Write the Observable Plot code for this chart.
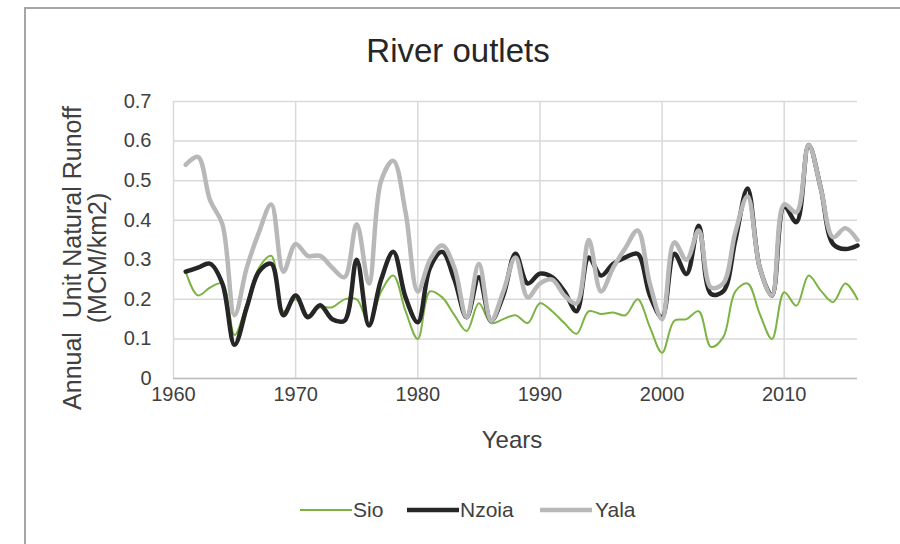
<!DOCTYPE html>
<html>
<head>
<meta charset="utf-8">
<script src="https://cdn.jsdelivr.net/npm/d3@7"></script>
<script src="https://cdn.jsdelivr.net/npm/@observablehq/plot@0.6"></script>
<style>
  html, body { margin: 0; padding: 0; background: #fff; }
  body { width: 900px; height: 544px; position: relative; overflow: hidden; font-family: "Liberation Sans", Arial, sans-serif; }
  #frame { position: absolute; left: 24px; top: 7px; width: 900px; height: 600px; border-left: 2px solid #a6a6a6; border-top: 2px solid #a6a6a6; }
  #chart { position: absolute; left: 0; top: 0; }
  .t { position: absolute; color: #404040; white-space: nowrap; }
  #title { left: 458px; top: 32px; transform: translateX(-50%); font-size: 33px; color: #262626; }
  #xtitle { left: 512px; top: 426px; transform: translateX(-50%); font-size: 24px; }
  #ytitle { left: 85px; top: 258px; transform: translate(-50%, -50%) rotate(-90deg); font-size: 25px; text-align: center; line-height: 25px; }
  .lg-line { position: absolute; top: 505px; }
  .lg-text { position: absolute; top: 498px; font-size: 21px; color: #404040; }
</style>
</head>
<body>
<div id="frame"></div>
<div id="chart"></div>
<div class="t" id="title">River outlets</div>
<div class="t" id="xtitle">Years</div>
<div class="t" id="ytitle">Annual &nbsp;Unit Natural Runoff<br>(MCM/km2)</div>
<div id="legend"></div>
<script>
const years = [1961,1962,1963,1964,1965,1966,1967,1968,1969,1970,
  1971,1972,1973,1974,1975,1976,1977,1978,1979,1980,
  1981,1982,1983,1984,1985,1986,1987,1988,1989,1990,
  1991,1992,1993,1994,1995,1996,1997,1998,1999,2000,
  2001,2002,2003,2004,2005,2006,2007,2008,2009,2010,
  2011,2012,2013,2014,2015,2016];

const sio = [0.27,0.21,0.23,0.24,0.11,0.19,0.28,0.31,0.17,0.20,
  0.16,0.18,0.18,0.20,0.20,0.14,0.22,0.26,0.17,0.10,
  0.22,0.205,0.16,0.12,0.19,0.14,0.15,0.16,0.14,0.19,
  0.17,0.14,0.113,0.17,0.163,0.167,0.16,0.20,0.13,0.065,
  0.146,0.15,0.17,0.08,0.104,0.22,0.24,0.163,0.10,0.218,
  0.184,0.26,0.222,0.193,0.24,0.20];

const nzoia = [0.27,0.28,0.29,0.24,0.085,0.18,0.27,0.29,0.16,0.21,
  0.155,0.185,0.15,0.146,0.30,0.134,0.25,0.32,0.205,0.142,
  0.28,0.32,0.25,0.155,0.256,0.146,0.21,0.315,0.24,0.265,
  0.256,0.22,0.17,0.306,0.26,0.29,0.306,0.315,0.21,0.155,
  0.315,0.264,0.386,0.214,0.22,0.35,0.48,0.28,0.21,0.435,
  0.395,0.59,0.48,0.34,0.327,0.336];

const yala = [0.54,0.56,0.45,0.39,0.16,0.28,0.37,0.44,0.27,0.34,
  0.31,0.31,0.28,0.256,0.39,0.24,0.50,0.55,0.42,0.22,
  0.30,0.336,0.28,0.155,0.29,0.146,0.22,0.306,0.205,0.24,
  0.25,0.21,0.19,0.35,0.22,0.28,0.33,0.374,0.24,0.15,
  0.344,0.30,0.374,0.23,0.24,0.37,0.46,0.28,0.21,0.44,
  0.42,0.59,0.48,0.357,0.38,0.35];

const seriesNames = ["Sio", "Nzoia", "Yala"];
const seriesColors = ["#7cb342", "#262626", "#b8b8b8"];
const seriesWidths = [2, 4.5, 4.5];
const seriesValues = [sio, nzoia, yala];

const xTicks = [1960, 1970, 1980, 1990, 2000, 2010];
const yTicks = [0, 0.1, 0.2, 0.3, 0.4, 0.5, 0.6, 0.7];

const rows = seriesNames.map((name, i) => years.map((y, j) => ({year: y, value: seriesValues[i][j], series: name})));

const lineMarks = seriesNames.map((name, i) => Plot.line(rows[i], {
  x: "year", y: "value", stroke: seriesColors[i], strokeWidth: seriesWidths[i],
  curve: "catmull-rom", strokeLinejoin: "round", strokeLinecap: "round"
}));

const chart = Plot.plot({
  width: 900,
  height: 544,
  marginLeft: 173,
  marginRight: 43,
  marginTop: 101,
  marginBottom: 166,
  style: {fontFamily: "'Liberation Sans', Arial, sans-serif", fontSize: "20px", color: "#404040", background: "transparent"},
  x: {domain: [1960, 2016]},
  y: {domain: [0, 0.7]},
  marks: [
    Plot.gridY(yTicks, {stroke: "#d9d9d9", strokeOpacity: 1, strokeWidth: 1.5}),
    Plot.gridX(xTicks, {stroke: "#d9d9d9", strokeOpacity: 1, strokeWidth: 1.5}),
    Plot.ruleY([0], {stroke: "#bfbfbf", strokeWidth: 1.5}),
    Plot.axisY(yTicks, {tickSize: 0, tickPadding: 22, label: null, fontSize: 20, fill: "#404040",
      tickFormat: d => d === 0 ? "0" : d.toFixed(1)}),
    Plot.axisX(xTicks, {tickSize: 0, tickPadding: 8, label: null, fontSize: 20, fill: "#404040",
      tickFormat: d => String(d)}),
    ...lineMarks
  ]
});
document.getElementById("chart").appendChild(chart);

const legendLineX = [300, 407, 540];
const legendTextX = [353, 460, 595];
const legend = document.getElementById("legend");
seriesNames.forEach((name, i) => {
  const sw = document.createElement("div");
  sw.className = "lg-line";
  sw.style.left = legendLineX[i] + "px";
  sw.innerHTML = `<svg width="52" height="10" style="display:block"><line x1="0" y1="5" x2="52" y2="5" stroke="${seriesColors[i]}" stroke-width="${seriesWidths[i]}"/></svg>`;
  legend.appendChild(sw);
  const tx = document.createElement("div");
  tx.className = "lg-text";
  tx.style.left = legendTextX[i] + "px";
  tx.textContent = name;
  legend.appendChild(tx);
});
</script>
</body>
</html>
